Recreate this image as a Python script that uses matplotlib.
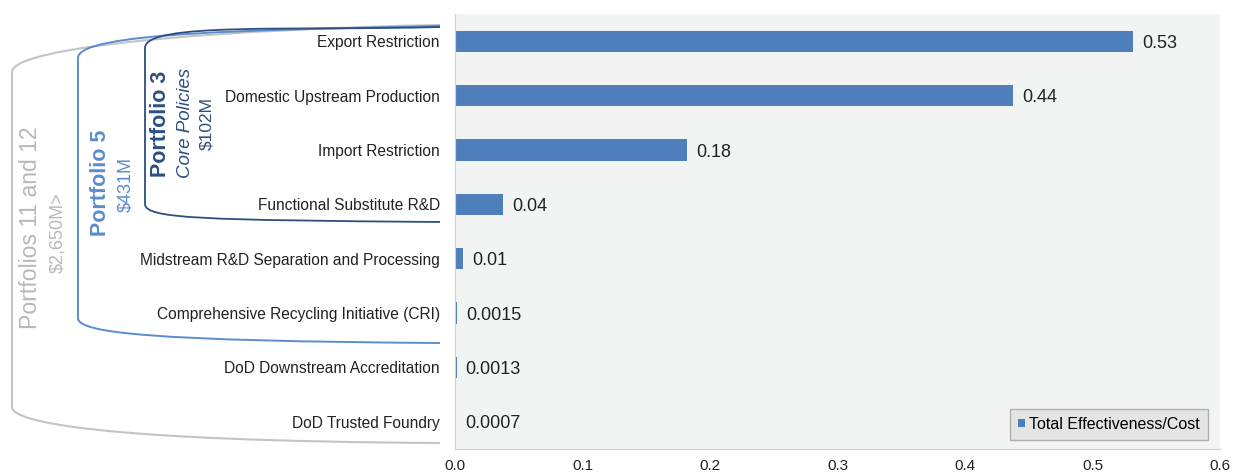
import matplotlib.pyplot as plt
from matplotlib.path import Path
from matplotlib.patches import PathPatch

plt.rcParams['font.family'] = ['Liberation Sans', 'DejaVu Sans']

# data
policies = ["Export Restriction", "Domestic Upstream Production", "Import Restriction",
            "Functional Substitute R&D", "Midstream R&D Separation and Processing",
            "Comprehensive Recycling Initiative (CRI)", "DoD Downstream Accreditation",
            "DoD Trusted Foundry"]
effectiveness = [0.532, 0.438, 0.182, 0.038, 0.0065, 0.0015, 0.0013, 0.0007]
value_labels = ["0.53", "0.44", "0.18", "0.04", "0.01", "0.0015", "0.0013", "0.0007"]
xticks = [0.0, 0.1, 0.2, 0.3, 0.4, 0.5, 0.6]

W, H = 1234, 476
fig = plt.figure(figsize=(W / 100, H / 100), dpi=100)
ax = fig.add_axes([455 / W, 1 - 449 / H, (1220 - 455) / W, (449 - 14) / H])
ax.set_facecolor("#f2f3f3")

ypos = list(range(len(policies)))
ax.barh(ypos, effectiveness, height=0.39, color="#4f7fba",
        label="Total Effectiveness/Cost")
for y, v, lab in zip(ypos, effectiveness, value_labels):
    ax.text(v + 0.007, y + 0.04, lab, va="center", ha="left", fontsize=13, color="#222222")

ax.set_ylim(len(policies) - 0.5, -0.5)
ax.set_xlim(0, 0.6)
ax.set_yticks(ypos)
ax.set_yticklabels(policies, fontsize=11.2, color="#222222")
ax.set_xticks(xticks)
ax.set_xticklabels([f"{t:.1f}" for t in xticks], fontsize=11, color="#222222")
ax.tick_params(axis="x", length=0, pad=7)
ax.tick_params(axis="y", length=0, pad=11)
for s in ["top", "right"]:
    ax.spines[s].set_visible(False)
for s in ["left", "bottom"]:
    ax.spines[s].set_color("#d0d0d0")

leg = ax.legend(loc="lower right", fontsize=11.5, frameon=True, fancybox=False,
                handlelength=0.45, handleheight=0.45, handletextpad=0.25,
                borderpad=0.5, borderaxespad=0.3, bbox_to_anchor=(0.99, 0.01))
leg.get_frame().set_facecolor("#e4e4e4")
leg.get_frame().set_edgecolor("#b0b0b0")
leg.get_frame().set_alpha(1)


def px(x, y):
    return (x / W, 1 - y / H)


# bracket: top end at right, rounded corner on the left, bottom end at right
def bracket(xr, ytop_r, xl, ytop_l, ybot_l, ybot_r, color, lw):
    verts = [px(xr, ytop_r), px(xl + (xr - xl) * 0.5, ytop_r + 4),
             px(xl, ytop_l - 26), px(xl, ytop_l),
             px(xl, ybot_l),
             px(xl, ybot_l + 15), px(xl + (xr - xl) * 0.2, ybot_r - 2), px(xr, ybot_r)]
    codes = [Path.MOVETO, Path.CURVE4, Path.CURVE4, Path.CURVE4,
             Path.LINETO, Path.CURVE4, Path.CURVE4, Path.CURVE4]
    fig.patches.append(PathPatch(Path(verts, codes), transform=fig.transFigure,
                                 fill=False, edgecolor=color, lw=lw))


bracket(440, 25, 12, 72, 407, 443, "#c4c4c4", 1.5)
bracket(440, 26, 78, 58, 318, 343, "#5b8ccc", 1.4)
bracket(440, 27, 145, 48, 204, 222, "#2c4f80", 1.3)

fig.text(31 / W, 1 - 228 / H, "Portfolios 11 and 12", rotation=90, ha="center",
         va="center", fontsize=16.6, color="#b8b8b8")
fig.text(58 / W, 1 - 233 / H, "$2,650M>", rotation=90, ha="center", va="center",
         fontsize=13, color="#b8b8b8")
fig.text(100 / W, 1 - 183 / H, "Portfolio 5", rotation=90, ha="center", va="center",
         fontsize=15.5, color="#5b8ccc", fontweight="bold")
fig.text(126 / W, 1 - 184 / H, "$431M", rotation=90, ha="center", va="center",
         fontsize=13, color="#5b8ccc")
fig.text(160 / W, 1 - 124 / H, "Portfolio 3", rotation=90, ha="center", va="center",
         fontsize=15.5, color="#2c4f80", fontweight="bold")
fig.text(185 / W, 1 - 123 / H, "Core Policies", rotation=90, ha="center", va="center",
         fontsize=13.5, color="#2c4f80", style="italic")
fig.text(207 / W, 1 - 124 / H, "$102M", rotation=90, ha="center", va="center",
         fontsize=12.5, color="#2c4f80")

fig.savefig("out.png", dpi=100)
